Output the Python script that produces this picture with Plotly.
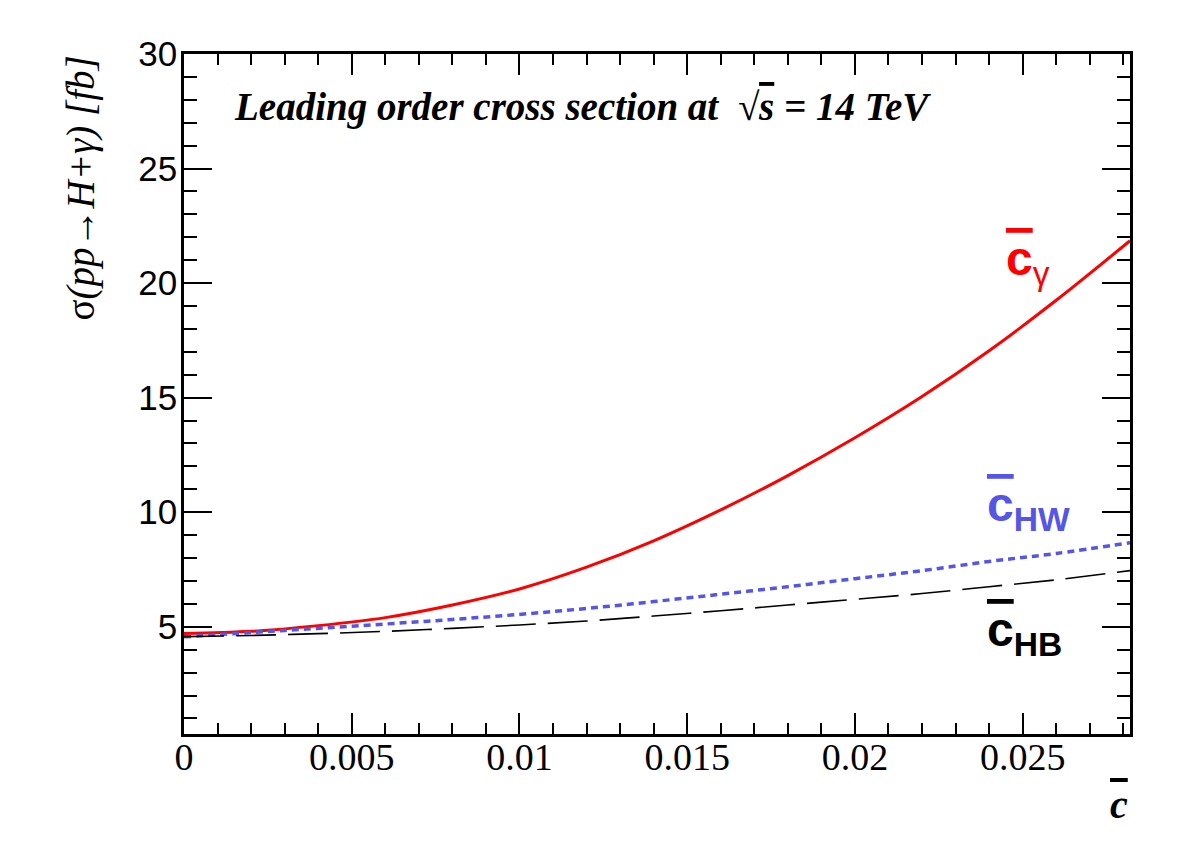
import plotly.graph_objects as go

# ---- data ----
cbar = [0.0, 0.002, 0.004, 0.006, 0.008, 0.010, 0.012, 0.014, 0.016, 0.018, 0.020, 0.022, 0.024, 0.026, 0.0282]
sigma_cgamma = [4.71, 4.80, 5.05, 5.40, 5.95, 6.65, 7.60, 8.75, 10.10, 11.60, 13.25, 15.05, 17.05, 19.25, 21.85]
sigma_cHW = [4.56, 4.75, 4.93, 5.12, 5.32, 5.54, 5.80, 6.10, 6.42, 6.75, 7.10, 7.45, 7.85, 8.20, 8.67]
sigma_cHB = [4.57, 4.62, 4.70, 4.80, 4.93, 5.08, 5.25, 5.47, 5.70, 5.95, 6.20, 6.45, 6.75, 7.05, 7.45]

x_tickvals = [0, 0.005, 0.01, 0.015, 0.02, 0.025]
x_ticktext = ["0", "0.005", "0.01", "0.015", "0.02", "0.025"]
y_tickvals = [5, 10, 15, 20, 25, 30]
y_ticktext = ["5", "10", "15", "20", "25", "30"]

W, H = 1182, 850
L, R, T, B = 184, 52, 54, 116
pw, ph = W - L - R, H - T - B

def px(xp):
    return (xp - L) / pw

def py(yp):
    return (H - B - yp) / ph

fig = go.Figure()
fig.add_trace(go.Scatter(x=cbar, y=sigma_cgamma, mode="lines", line_shape="spline",
                         line=dict(color="#ff0000", width=3, smoothing=1.0), showlegend=False))
fig.add_trace(go.Scatter(x=cbar, y=sigma_cHW, mode="lines", line_shape="spline",
                         line=dict(color="#5555e6", width=3.5, dash="7px,5px", smoothing=1.0), showlegend=False))
fig.add_trace(go.Scatter(x=cbar, y=sigma_cHB, mode="lines", line_shape="spline",
                         line=dict(color="#000000", width=1.6, dash="40px,12px", smoothing=1.0), showlegend=False))

fig.update_layout(
    width=W, height=H,
    margin=dict(l=L, r=R, t=T, b=B, pad=0),
    paper_bgcolor="white", plot_bgcolor="white",
    xaxis=dict(range=[0, 0.0282], tickvals=x_tickvals, ticktext=x_ticktext,
               showgrid=False, zeroline=False, showline=True, linecolor="black", linewidth=2.5,
               mirror="ticks", ticks="inside", ticklen=21, tickwidth=2, tickcolor="black",
               ticklabelstandoff=-12,
               minor=dict(dtick=0.001, ticks="inside", ticklen=11, tickwidth=2, tickcolor="black", showgrid=False),
               tickfont=dict(family="Liberation Serif", size=38, color="black")),
    yaxis=dict(range=[0.32, 30], tickvals=y_tickvals, ticktext=y_ticktext,
               showgrid=False, zeroline=False, showline=True, linecolor="black", linewidth=2.5,
               mirror="ticks", ticks="inside", ticklen=28, tickwidth=2, tickcolor="black",
               ticklabelstandoff=-3,
               minor=dict(dtick=1, ticks="inside", ticklen=13, tickwidth=2, tickcolor="black", showgrid=False),
               tickfont=dict(family="Liberation Sans", size=35, color="black")),
)

annos = []
# Plot title text
annos.append(dict(xref="paper", yref="paper", x=px(232), y=py(107), xanchor="left", yanchor="middle",
                  showarrow=False,
                  text="Leading order cross section at  √<span style='text-decoration:overline'>s</span> = 14 TeV",
                  font=dict(family="Liberation Serif", size=39, color="black", weight="bold", style="italic")))
# y axis title
annos.append(dict(xref="paper", yref="paper", x=px(80), y=1.0, xanchor="center", yanchor="top",
                  showarrow=False, textangle=-90,
                  text="σ<i>(pp→H+γ) [fb]</i>",
                  font=dict(family="Liberation Serif", size=39, color="black")))
# x axis title
annos.append(dict(xref="paper", yref="paper", x=1.0, y=py(804), xanchor="right", yanchor="middle",
                  showarrow=False,
                  text="<span style='text-decoration:overline'>c</span>",
                  font=dict(family="Liberation Serif", size=40, color="black", weight="bold", style="italic")))
# curve labels
annos.append(dict(xref="paper", yref="paper", x=px(1004), y=py(262), xanchor="left", yanchor="middle",
                  showarrow=False,
                  text="<b><span style='text-decoration:overline'>c</span></b><sub>γ</sub>",
                  font=dict(family="Liberation Sans", size=48, color="#ff0000")))
annos.append(dict(xref="paper", yref="paper", x=px(985), y=py(508), xanchor="left", yanchor="middle",
                  showarrow=False,
                  text="<b><span style='text-decoration:overline'>c</span><sub>HW</sub></b>",
                  font=dict(family="Liberation Sans", size=48, color="#5555e6")))
annos.append(dict(xref="paper", yref="paper", x=px(985), y=py(633), xanchor="left", yanchor="middle",
                  showarrow=False,
                  text="<b><span style='text-decoration:overline'>c</span><sub>HB</sub></b>",
                  font=dict(family="Liberation Sans", size=48, color="#000000")))
fig.update_layout(annotations=annos)

fig.write_html("out.html")
